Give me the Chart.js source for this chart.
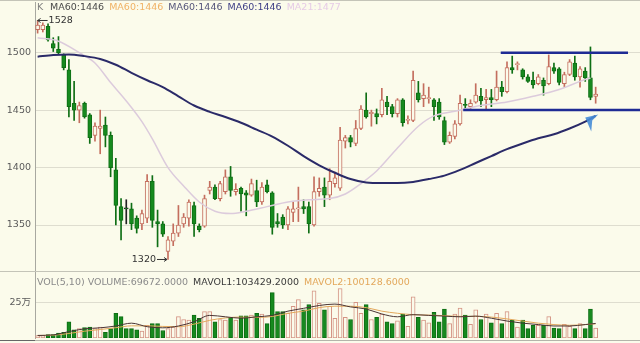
<!DOCTYPE html>
<html>
<head>
<meta charset="utf-8">
<script src="https://cdn.jsdelivr.net/npm/chart.js@4.4.1/dist/chart.umd.min.js"></script>
<style>
  html, body { margin: 0; padding: 0; background: #fbfbeb; }
  #wrap { position: relative; width: 640px; height: 343px; overflow: hidden; }
  #price { position: absolute; left: 0; top: 0; }
  #vol { position: absolute; left: 0; top: 272px; }
</style>
</head>
<body>
<div id="wrap">
  <canvas id="price" width="640" height="272"></canvas>
  <canvas id="vol" width="640" height="71"></canvas>
</div>
<script>
// daily candles
const opens = [1520,1520,1523,1508,1503,1498,1485,1456,1450,1456,
  1446,1428,1434,1437,1428,1398,1366,1364,1364,1356,
  1351,1356,1388,1353,1351,1327,1336,1343,1351,1356,
  1367,1349,1349,1380,1383,1373,1379,1392,1379,1382,
  1378,1376,1380,1370,1385,1378,1353,1357,1350,1361,
  1364,1366,1366,1350,1379,1383,1376,1386,1382,1423,
  1426,1421,1434,1450,1447,1447,1446,1457,1453,1447,
  1459,1441,1441,1465,1460,1460,1459,1457,1441,1422,
  1427,1438,1455,1453,1457,1462,1459,1461,1459,1470,
  1466,1487,1489.6,1485,1479,1476,1473,1476,1473,1487,
  1486,1473,1481,1491,1479,1484,1478,1462];
const highs = [1528,1526,1525,1513,1514,1499,1494,1475,1457,1457,
  1447,1439,1450,1444,1431,1408,1373,1372,1369,1358,
  1363,1394,1393,1363,1353,1340,1351,1367,1360,1372,
  1370,1351,1376,1388,1385,1388,1398,1401,1386,1383,
  1380,1390,1389,1387,1389,1379,1360,1359,1366,1370,
  1383,1372,1370,1392,1391,1391,1399,1396,1435,1428,
  1428,1441,1454,1465,1450,1451,1469,1462,1455,1460,
  1460,1445,1484,1475,1473,1470,1460,1460,1444,1431,
  1441,1463,1460,1459,1473,1469,1468,1468,1484,1475,
  1492,1497,1492,1486,1481,1483,1481,1478,1498,1491,
  1487,1483,1494,1497,1488,1487,1505,1470];
const lows = [1517,1518,1510,1501,1499,1485,1444,1441,1439,1443,
  1421,1423,1412,1418,1392,1350,1337,1351,1346,1343,
  1346,1352,1348,1331,1340,1320,1332,1340,1348,1349,
  1340,1344,1348,1377,1372,1371,1377,1375,1376,1362,
  1358,1375,1366,1368,1378,1342,1348,1347,1346,1353,
  1353,1360,1343,1349,1375,1366,1372,1383,1380,1417,
  1418,1419,1433,1443,1436,1438,1444,1446,1444,1444,
  1436,1438,1440,1457,1453,1456,1441,1442,1420,1421,
  1425,1437,1450,1451,1456,1453,1450,1453,1458,1462,
  1465,1482,1485,1477,1474,1469,1472,1463,1472,1482,
  1472,1470,1480,1476,1470,1475,1459,1456];
const closes = [1524,1524,1511,1504,1500,1487,1453,1450,1454,1444,
  1426,1436,1436,1428,1400,1367,1354,1364,1351,1347,
  1360,1388,1354,1351,1342,1337,1343,1350,1357,1370,
  1351,1346,1373,1383,1373,1386,1392,1380,1381,1377,
  1376,1386,1370,1383,1379,1348,1351,1350,1364,1364,
  1365,1364,1351,1379,1382,1376,1388,1391,1424,1426,
  1422,1434,1451,1444,1448,1444,1459,1453,1447,1459,
  1439,1442,1476,1459,1463,1461,1453,1444,1422,1428,
  1438,1456,1454,1456,1463,1458,1461,1459,1470,1466,
  1487,1485,1490.4,1479,1475,1472,1479,1471,1488,1484,
  1474,1481,1492,1479,1486,1478,1461,1464];

// volume in 万
const volumes = [1.7,1.7,2.4,2.4,3.4,4.1,11.4,5.8,6.6,7.3,
  7.8,6.6,7.8,4.1,6.6,17.5,15.1,6.6,6.6,5.8,
  4.9,9.0,10.2,10.2,5.3,6.6,7.8,15.1,13.1,12.6,
  16.3,13.9,18.7,18.7,11.4,13.1,12.6,14.6,12.6,15.6,
  15.6,16.3,17.5,17.0,10.2,32.1,18.7,18.7,17.5,22.4,
  27.2,19.9,23.6,33.3,24.5,19.9,22.4,13.9,35.0,14.6,
  13.1,25.3,17.5,23.6,13.1,14.6,17.0,11.4,10.2,12.2,
  17.0,8.3,29.2,14.6,12.6,10.7,18.2,11.4,20.4,10.2,
  17.0,21.1,16.3,9.7,19.9,13.1,17.0,10.7,17.5,10.2,
  18.7,12.6,7.8,12.6,6.6,9.0,9.0,9.0,15.1,7.0,
  6.6,9.7,8.3,6.6,10.2,6.6,20.4,7.0];

// moving average lines, sampled at candle indices
const ma60Idx = [0,3,6,9,12,15,18,21,24,27,30,33,36,39,42,45,48,51,54,57,60,63,66,69,72,75,78,81,84,87,90,93,96,99,102,105,107];
const ma60Val = [1496.5,1498,1498.5,1497,1494.5,1489.5,1482.5,1476,1470,1462,1454,1448.5,1444,1439,1433,1427,1419,1410,1402,1395.5,1390,1387,1386.5,1386.5,1387.5,1390,1393,1398,1404,1410,1416,1421,1425.5,1429,1434,1440,1445];
const ma21Idx = [0,4,8,11,14,17,20,22,25,28,31,34,37,40,44,48,52,56,59,62,65,69,73,76,80,85,90,95,100,104,106];
const ma21Val = [1513,1510,1500,1491,1474,1458,1440,1425,1400,1384,1370,1362,1360,1362,1366,1370,1372,1373,1377,1386,1397,1417,1436,1445,1449,1454,1457,1462,1468,1475,1478];
const volMaIdx = [0,3,6,9,12,15,18,21,24,27,30,33,36,39,42,45,48,51,54,57,60,63,66,69,72,75,78,81,84,87,90,93,96,99,102,105,107];
const volMa5 = [1.8,2.2,4.5,6.5,7.2,8.5,10.5,8.0,7.2,8.5,11.5,16,15,14,15,16,19,21,23,24,22,20.5,17,15,16.5,16,15.5,15,15.5,14,12,10.5,9.5,8.5,8.5,9.5,10.3];
const volMa10 = [1.8,2.0,3.2,4.8,6.0,7.3,8.6,8.6,8.2,8.0,9.8,12.5,14.2,14.8,14.6,15.2,17.5,19.0,21.5,22.5,22.5,21.5,19,17.5,16.5,16.2,15.8,15.3,15.3,14.8,13.5,12,10.5,9.5,9.0,9.5,10.0];

// hand drawn levels
const topLineX = [88.8, 113.2];
const topLineY = [1500, 1500];
const lowLineX = [81.6, 115.5];
const lowLineY = [1450, 1450];

const priceTicks = [1350, 1400, 1450, 1500];
const volTicks = [25];
const legendItems = [
  ['MA60:1446', '#4a4a4a'],
  ['MA60:1446', '#f0b266'],
  ['MA60:1446', '#55557a'],
  ['MA60:1446', '#3e3e86'],
  ['MA21:1477', '#e6cce6']
];
const volTitle = [
  ['VOL(5,10) VOLUME:69672.0000', '#8a8a8a'],
  ['MAVOL1:103429.2000', '#3a3a3a'],
  ['MAVOL2:100128.6000', '#e3a85c']
];

const BG = '#fbfbeb';
const UP = '#c46e5e';
const DOWN = '#168a1e';
const DOWN_EDGE = '#0e6e14';
const FONT = "'DejaVu Sans', 'Noto Sans CJK SC', sans-serif";

const idx = closes.map((_, i) => i);
const up = idx.map(i => closes[i] > opens[i]);
const flat = idx.map(i => closes[i] === opens[i]);
const edge = idx.map(i => flat[i] ? '#222' : up[i] ? UP : DOWN_EDGE);
const fill = idx.map(i => up[i] ? BG : DOWN);

const pts = (xs, ys) => xs.map((x, k) => ({x: x, y: ys[k]}));

const priceNotes = {
  id: 'priceNotes',
  afterDraw(chart) {
    const c = chart.ctx;
    const xs = chart.scales.x, ys = chart.scales.y;
    c.save();
    // frame lines
    c.strokeStyle = '#c4c4b8';
    c.lineWidth = 1;
    c.beginPath();
    c.moveTo(0, 0.5); c.lineTo(640, 0.5);
    c.moveTo(0, 271.5); c.lineTo(640, 271.5);
    c.stroke();

    c.font = '9.5px ' + FONT;
    c.textBaseline = 'middle';
    c.fillStyle = '#808080';
    c.fillText('K', 37, 8);
    let x = 50;
    legendItems.forEach(([t, col]) => {
      c.fillStyle = col;
      c.fillText(t, x, 8);
      x += c.measureText(t).width + 5;
    });

    // max / min marks
    c.fillStyle = '#333';
    c.strokeStyle = '#333';
    let hx = xs.getPixelForValue(0), hy = ys.getPixelForValue(1528);
    c.beginPath();
    c.moveTo(hx, hy); c.lineTo(hx + 10, hy);
    c.moveTo(hx, hy); c.lineTo(hx + 3, hy - 2);
    c.moveTo(hx, hy); c.lineTo(hx + 3, hy + 2);
    c.stroke();
    c.textAlign = 'left';
    c.fillText('1528', hx + 11, hy);
    let lx = xs.getPixelForValue(25) - 1, ly = ys.getPixelForValue(1320);
    c.beginPath();
    c.moveTo(lx, ly); c.lineTo(lx - 10, ly);
    c.moveTo(lx, ly); c.lineTo(lx - 3, ly - 2);
    c.moveTo(lx, ly); c.lineTo(lx - 3, ly + 2);
    c.stroke();
    c.textAlign = 'right';
    c.fillText('1320', lx - 11, ly);

    // blue pointer
    const px = xs.getPixelForValue(105), py = ys.getPixelForValue(1443.5);
    c.fillStyle = 'rgba(70,140,215,0.9)';
    c.beginPath();
    c.moveTo(px, py);
    c.lineTo(px + 13, py - 3);
    c.lineTo(px + 7, py + 3);
    c.lineTo(px + 6, py + 14);
    c.closePath();
    c.fill();
    c.restore();
  }
};

new Chart(document.getElementById('price'), {
  data: {
    datasets: [
      { type: 'bar', data: idx.map(i => ({x: i, y: [lows[i], highs[i]]})),
        backgroundColor: edge, barThickness: 1, grouped: false, order: 4 },
      { type: 'bar', data: idx.map(i => ({x: i, y: [opens[i], closes[i]]})),
        backgroundColor: fill, borderColor: edge, borderWidth: 1, borderSkipped: false,
        barThickness: 4, minBarLength: 1, grouped: false, order: 3 },
      { type: 'line', data: pts(ma21Idx, ma21Val), borderColor: '#dccbdc', borderWidth: 1.5,
        pointRadius: 0, cubicInterpolationMode: 'monotone', order: 2 },
      { type: 'line', data: pts(ma60Idx, ma60Val), borderColor: '#2a2a68', borderWidth: 2,
        pointRadius: 0, cubicInterpolationMode: 'monotone', order: 1 },
      { type: 'line', data: pts(topLineX, topLineY), borderColor: '#1e2b94', borderWidth: 2.5,
        pointRadius: 0, order: 0 },
      { type: 'line', data: pts(lowLineX, lowLineY), borderColor: '#1e2b94', borderWidth: 2.5,
        pointRadius: 0, order: 0 }
    ]
  },
  options: {
    responsive: false,
    animation: false,
    events: [],
    layout: { padding: { top: 2, bottom: 0, left: 0, right: 0 } },
    plugins: { legend: { display: false }, tooltip: { enabled: false } },
    scales: {
      x: { type: 'linear', min: -0.5, max: 115.5, offset: false, display: false },
      y: {
        min: 1309.1, max: 1544.1,
        afterFit: s => { s.width = 35; s.paddingTop = 0; s.paddingBottom = 0; },
        afterBuildTicks: s => { s.ticks = priceTicks.map(v => ({value: v})); },
        grid: { color: '#deddcf', drawTicks: false },
        border: { color: '#a8a8a0' },
        ticks: { padding: 4, color: '#5a5a5a', font: { family: FONT, size: 9.5 },
                 callback: v => String(v) }
      }
    }
  },
  plugins: [priceNotes]
});

const volNotes = {
  id: 'volNotes',
  afterDraw(chart) {
    const c = chart.ctx;
    c.save();
    c.font = '9.5px ' + FONT;
    c.textBaseline = 'middle';
    let x = 37;
    volTitle.forEach(([t, col]) => {
      c.fillStyle = col;
      c.fillText(t, x, 11);
      x += c.measureText(t).width + 5;
    });
    c.strokeStyle = '#b4b4aa';
    c.beginPath();
    c.moveTo(0, 68.5); c.lineTo(640, 68.5);
    c.stroke();
    c.strokeStyle = '#666';
    c.beginPath();
    c.moveTo(0, 68.5); c.lineTo(35, 68.5);
    c.stroke();
    c.restore();
  }
};

new Chart(document.getElementById('vol'), {
  data: {
    datasets: [
      { type: 'bar', data: idx.map(i => ({x: i, y: volumes[i]})),
        backgroundColor: idx.map(i => up[i] ? BG : DOWN),
        borderColor: idx.map(i => up[i] ? '#d49484' : DOWN_EDGE),
        borderWidth: 1, borderSkipped: false, barThickness: 4, grouped: false, order: 2 },
      { type: 'line', data: pts(volMaIdx, volMa10), borderColor: '#e3a85c', borderWidth: 1,
        pointRadius: 0, cubicInterpolationMode: 'monotone', order: 1 },
      { type: 'line', data: pts(volMaIdx, volMa5), borderColor: '#4a3434', borderWidth: 1,
        pointRadius: 0, cubicInterpolationMode: 'monotone', order: 0 }
    ]
  },
  options: {
    responsive: false,
    animation: false,
    events: [],
    layout: { padding: { top: 0, bottom: 5, left: 0, right: 0 } },
    plugins: { legend: { display: false }, tooltip: { enabled: false } },
    scales: {
      x: { type: 'linear', min: -0.5, max: 115.5, offset: false, display: false },
      y: {
        min: 0, max: 46.7,
        afterFit: s => { s.width = 35; s.paddingTop = 0; s.paddingBottom = 0; },
        afterBuildTicks: s => { s.ticks = volTicks.map(v => ({value: v})); },
        grid: { color: '#deddcf', drawTicks: false },
        border: { color: '#a8a8a0' },
        ticks: { padding: 4, color: '#5a5a5a', font: { family: FONT, size: 9.5 },
                 callback: v => v + '万' }
      }
    }
  },
  plugins: [volNotes]
});
</script>
</body>
</html>
